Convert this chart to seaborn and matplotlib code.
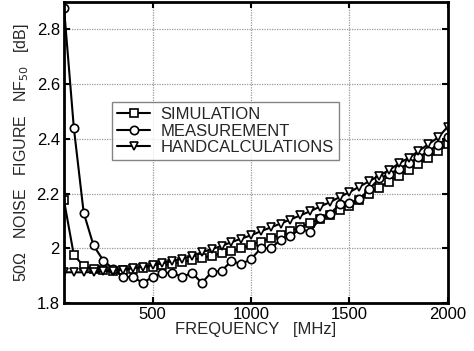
import numpy as np
import pandas as pd
import matplotlib
matplotlib.use("Agg")
import matplotlib.pyplot as plt
import seaborn as sns

freq = list(range(50, 2001, 50))

simulation = [2.175, 1.975, 1.935, 1.925, 1.920, 1.918, 1.920, 1.925, 1.928, 1.932,
              1.937, 1.943, 1.950, 1.957, 1.965, 1.973, 1.981, 1.990, 2.000, 2.012,
              2.024, 2.037, 2.050, 2.063, 2.077, 2.092, 2.107, 2.122, 2.140, 2.156,
              2.178, 2.200, 2.222, 2.243, 2.264, 2.285, 2.308, 2.330, 2.355, 2.380]

measurement = [2.880, 2.440, 2.130, 2.010, 1.955, 1.925, 1.895, 1.895, 1.873, 1.895,
               1.910, 1.910, 1.895, 1.910, 1.873, 1.913, 1.917, 1.953, 1.942, 1.960,
               2.000, 2.000, 2.030, 2.045, 2.070, 2.060, 2.110, 2.125, 2.160, 2.165,
               2.180, 2.215, 2.255, 2.270, 2.290, 2.310, 2.332, 2.355, 2.378, 2.405]

handcalc = [1.912, 1.912, 1.912, 1.913, 1.915, 1.918, 1.922, 1.927, 1.932, 1.938,
            1.945, 1.953, 1.962, 1.972, 1.985, 1.997, 2.008, 2.022, 2.035, 2.047,
            2.062, 2.076, 2.090, 2.105, 2.120, 2.135, 2.152, 2.168, 2.187, 2.205,
            2.225, 2.245, 2.265, 2.285, 2.310, 2.330, 2.355, 2.380, 2.405, 2.445]

series_names = ["SIMULATION", "MEASUREMENT", "HANDCALCULATIONS"]
series_markers = ["s", "o", "v"]

xticks = [500, 1000, 1500, 2000]
yticks = [1.8, 2.0, 2.2, 2.4, 2.6, 2.8]
ytick_labels = ["1.8", "2", "2.2", "2.4", "2.6", "2.8"]

sns.set_theme(style="white")
plt.rcParams['font.family'] = ['Liberation Sans', 'DejaVu Sans']

fig = plt.figure(figsize=(4.74, 3.51), dpi=100)
ax = fig.add_axes([0.135, 0.137, 0.810, 0.857])

for name, vals, mk in zip(series_names, [simulation, measurement, handcalc], series_markers):
    df = pd.DataFrame({"freq": freq, "nf": vals})
    sns.lineplot(data=df, x="freq", y="nf", ax=ax, color="black", linewidth=1.5,
                 marker=mk, markersize=6, markerfacecolor="white",
                 markeredgecolor="black", markeredgewidth=1.2, label=name)

ax.set_xlim(50, 2000)
ax.set_ylim(1.8, 2.9)
ax.set_xticks(xticks)
ax.set_yticks(yticks)
ax.set_yticklabels(ytick_labels)
ax.grid(True, color="#999999", linestyle=(0, (1, 1)), linewidth=0.9)
for s in ax.spines.values():
    s.set_color("black")
    s.set_linewidth(2.0)
ax.tick_params(direction="in", length=4, width=1.5, labelsize=12, colors="black",
               top=True, right=True, bottom=True, left=True, pad=3)
ax.set_xlabel("FREQUENCY   [MHz]", fontsize=12, labelpad=0)
ax.set_ylabel("50Ω   NOISE   FIGURE   NF$_{50}$   [dB]", fontsize=11.5, labelpad=4)

leg = ax.legend(loc="upper left", bbox_to_anchor=(0.125, 0.668), fontsize=12,
                frameon=True, fancybox=False, handlelength=2.0, borderpad=0.3,
                labelspacing=0.1, handletextpad=0.6, borderaxespad=0)
leg.get_frame().set_edgecolor("#666666")
leg.get_frame().set_linewidth(1.0)

fig.savefig("out.png", dpi=100)
